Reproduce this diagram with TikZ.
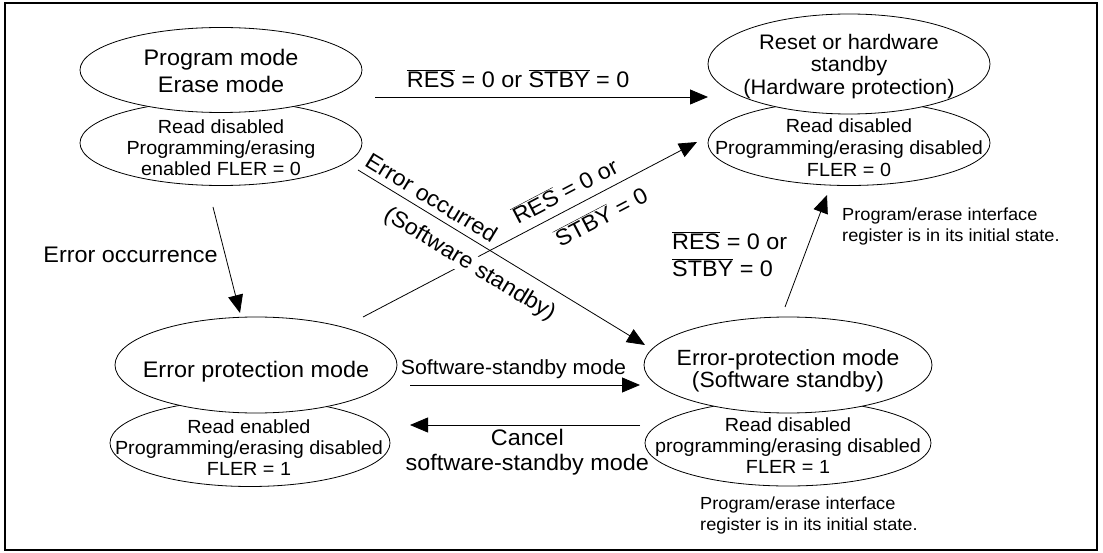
\documentclass[tikz,border=0pt]{standalone}
\usepackage{fontspec}
\setmainfont{Liberation Sans}[FakeStretch=1.04]
\usepackage{tikz}
\usetikzlibrary{arrows.meta, positioning, shapes.geometric}

\newcommand{\negsig}[1]{$\overline{\mbox{#1}}$}

\begin{document}
\begin{tikzpicture}[x=1pt, y=-1pt, >={Triangle[length=18pt,width=15pt]},
    modeshape/.style={ellipse, draw, fill=white, line width=0.8pt, inner sep=0pt},
    mainlbl/.style={align=center, inner sep=1pt, font=\fontsize{22.5}{27}\selectfont},
    sublbl/.style={align=center, inner sep=1pt, font=\fontsize{19}{21}\selectfont},
    notelbl/.style={align=left, anchor=north west, inner sep=0pt, font=\fontsize{17.5}{21}\selectfont},
    trans/.style={->, line width=0.8pt}]
  \useasboundingbox (0,0) rectangle (1103,553);
  \draw[line width=2.5pt] (5,3) rectangle (1097,550);

  % Program / erase mode
  \node[modeshape, minimum width=282pt, minimum height=85pt] (pmlow) at (221,143) {};
  \node[modeshape, minimum width=282pt, minimum height=85pt] (pm) at (221,70) {};
  \node[mainlbl] (pmtxt) at (221,71) {Program mode\\Erase mode};
  \node[sublbl] (pmlowtxt) at (221,147.5) {Read disabled\\Programming/erasing\\enabled FLER = 0};

  % Reset / hardware standby
  \node[modeshape, minimum width=282pt, minimum height=85pt] (rslow) at (849,143) {};
  \node[modeshape, minimum width=282pt, minimum height=100pt] (rs) at (849,64) {};
  \node[mainlbl, font=\fontsize{21}{22.5}\selectfont] (rstxt) at (849,66.5)
    {Reset or hardware\\standby\\(Hardware protection)};
  \node[sublbl, font=\fontsize{19}{22}\selectfont] (rslowtxt) at (849,147.5)
    {Read disabled\\Programming/erasing disabled\\FLER = 0};

  % Error protection mode
  \node[modeshape, minimum width=280pt, minimum height=87pt] (eplow) at (250,443) {};
  \node[modeshape, minimum width=282pt, minimum height=96pt] (ep) at (256,365) {};
  \node[mainlbl] (eptxt) at (256,371.5) {Error protection mode};
  \node[sublbl] (eplowtxt) at (249,447.5) {Read enabled\\Programming/erasing disabled\\FLER = 1};

  % Error protection mode, software standby
  \node[modeshape, minimum width=286pt, minimum height=86pt] (eslow) at (788,443) {};
  \node[modeshape, minimum width=288pt, minimum height=96pt] (es) at (788,365) {};
  \node[mainlbl, font=\fontsize{22}{22}\selectfont] (estxt) at (788,371)
    {Error-protection mode\\(Software standby)};
  \node[sublbl] (eslowtxt) at (788,446) {Read disabled\\programming/erasing disabled\\FLER = 1};

  % Notes
  \node[notelbl] (notetop) at (842,208) {Program/erase interface\\register is in its initial state.};
  \node[notelbl] (notebot) at (700,497) {Program/erase interface\\register is in its initial state.};

  % Transitions
  \coordinate (topA) at (375,97);  \coordinate (topB) at (708,97);
  \coordinate (errA) at (213,207); \coordinate (errB) at (240,313);
  \coordinate (swA) at (358,170);  \coordinate (swB) at (645,345);
  \coordinate (hwA) at (363,317);  \coordinate (hwB) at (697,142);
  \coordinate (rtA) at (785,307);  \coordinate (rtB) at (827,195);
  \coordinate (ssA) at (410,385);  \coordinate (ssB) at (640,385);
  \coordinate (ccA) at (640,425);  \coordinate (ccB) at (410,425);

  \draw[trans] (topA) -- node[mainlbl, pos=0.43, above=8pt] (toplbl)
    {\negsig{RES} = 0 or \negsig{STBY} = 0} (topB);
  \draw[trans] (errA) -- node[mainlbl, pos=0.45, left=6pt] (errlbl) {Error occurrence} (errB);
  \draw[trans] (hwA) -- node[mainlbl, pos=0.63, sloped, above=8pt] (hwlbl) {\negsig{RES} = 0 or}
    node[mainlbl, pos=0.683, sloped, below=11pt] (hwlblb) {\negsig{STBY} = 0} (hwB);
  \draw[trans] (swA) -- node[mainlbl, pos=0.23, sloped, above=5pt] (swlbl) {Error occurred}
    node[mainlbl, pos=0.43, sloped, below=11pt, fill=white] (swlblb) {(Software standby)} (swB);
  \draw[trans] (rtA) -- (rtB);
  \node[mainlbl, align=left, anchor=west] (rtlbl) at (671,254)
    {\negsig{RES} = 0 or\\\negsig{STBY} = 0};
  \draw[trans] (ssA) -- node[mainlbl, pos=0.45, above=5pt, font=\fontsize{20.5}{25}\selectfont] (sslbl)
    {Software-standby mode} (ssB);
  \draw[trans] (ccA) -- node[mainlbl, pos=0.49, below=3pt, font=\fontsize{22.5}{25}\selectfont] (cclbl)
    {Cancel\\software-standby mode} (ccB);
\end{tikzpicture}
\end{document}
